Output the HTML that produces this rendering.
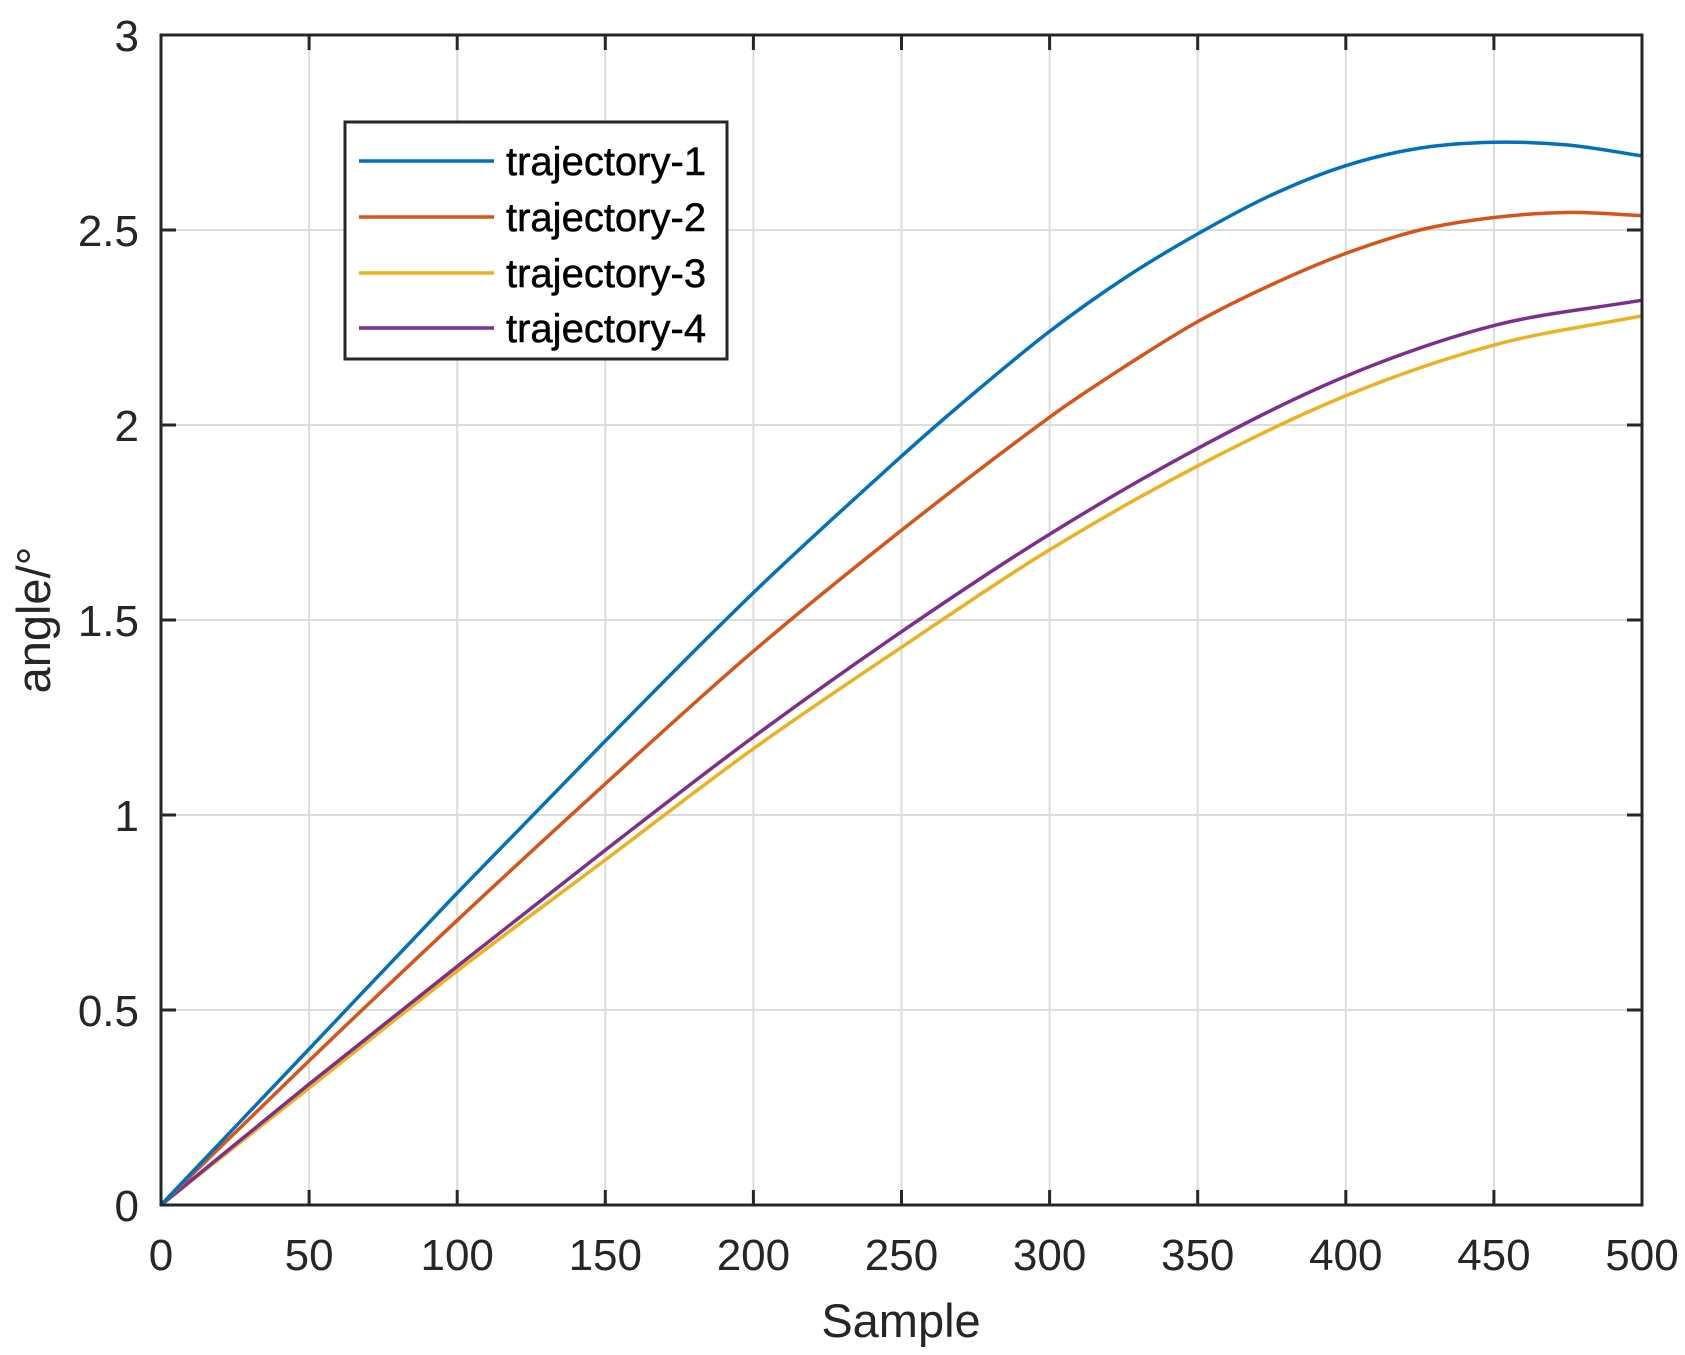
<!DOCTYPE html>
<html><head><style>body{margin:0;background:#fff}svg{display:block}text{font-family:"Liberation Sans",Arial,sans-serif;fill:#262626}</style></head>
<body>
<svg id="s" width="1685" height="1355" viewBox="0 0 1685 1355" xmlns="http://www.w3.org/2000/svg">
<rect width="1685" height="1355" fill="#fff"/>
<g id="grid" stroke="#dcdcdc" stroke-width="2"></g>
<g id="curves" fill="none" stroke-width="3.5"></g>
<rect x="161" y="35" width="1481" height="1170" fill="none" stroke="#262626" stroke-width="3"/>
<g id="ticks" stroke="#262626" stroke-width="3"></g>
<g id="labels" font-size="44"></g>
<text x="901" y="1337" font-size="47" text-anchor="middle">Sample</text>
<text transform="translate(50,620) rotate(-90)" font-size="47" text-anchor="middle">angle/°</text>
<rect x="345" y="122" width="382" height="237" fill="#fff" stroke="#262626" stroke-width="3"/>
<g font-size="40">
<line x1="359" y1="161" x2="494" y2="161" stroke="#0072bd" stroke-width="3.5"/><text x="506" y="175" style="fill:#000;stroke:#000;stroke-width:0.5">trajectory-1</text>
<line x1="359" y1="217" x2="494" y2="217" stroke="#d95319" stroke-width="3.5"/><text x="506" y="231" style="fill:#000;stroke:#000;stroke-width:0.5">trajectory-2</text>
<line x1="359" y1="273" x2="494" y2="273" stroke="#edb120" stroke-width="3.5"/><text x="506" y="287" style="fill:#000;stroke:#000;stroke-width:0.5">trajectory-3</text>
<line x1="359" y1="328" x2="494" y2="328" stroke="#7e2f8e" stroke-width="3.5"/><text x="506" y="342" style="fill:#000;stroke:#000;stroke-width:0.5">trajectory-4</text>
</g>
</svg>
<script>
const NS="http://www.w3.org/2000/svg";
const X=v=>161+v*1481/500, Y=v=>1205-v*390;
function el(p,t,a,txt){const e=document.createElementNS(NS,t);for(const k in a)e.setAttribute(k,a[k]);if(txt!==undefined)e.textContent=txt;document.getElementById(p).appendChild(e);}
for(let i=0;i<=10;i++){const x=X(i*50);
 if(i>0&&i<10)el("grid","line",{x1:x,y1:35,x2:x,y2:1205});
 if(i>0&&i<10){el("ticks","line",{x1:x,y1:1205,x2:x,y2:1190});el("ticks","line",{x1:x,y1:35,x2:x,y2:50});}
 el("labels","text",{x:x,y:1270,"text-anchor":"middle"},String(i*50));}
for(let j=0;j<=6;j++){const y=Y(j*0.5);
 if(j>0&&j<6){el("grid","line",{x1:161,y1:y,x2:1642,y2:y});el("ticks","line",{x1:161,y1:y,x2:176,y2:y});el("ticks","line",{x1:1642,y1:y,x2:1627,y2:y});}
 el("labels","text",{x:139,y:y+16,"text-anchor":"end"},String(j*0.5));}
const data=[
["#edb120",[[0,0],[50,0.3],[100,0.6],[150,0.885],[200,1.17],[250,1.43],[300,1.68],[350,1.895],[400,2.075],[450,2.205],[500,2.28]]],
["#7e2f8e",[[0,0],[50,0.31],[100,0.612],[150,0.91],[200,1.2],[250,1.47],[300,1.72],[350,1.94],[400,2.125],[450,2.255],[500,2.32]]],
["#d95319",[[0,0],[50,0.37],[100,0.73],[150,1.08],[200,1.42],[250,1.73],[300,2.02],[325,2.148],[350,2.265],[375,2.36],[400,2.44],[425,2.5],[450,2.532],[475,2.545],[500,2.537]]],
["#0072bd",[[0,0],[50,0.4],[100,0.8],[150,1.19],[200,1.57],[250,1.92],[275,2.085],[300,2.24],[325,2.375],[350,2.49],[375,2.59],[400,2.665],[425,2.71],[450,2.725],[475,2.718],[500,2.69]]]];
for(const [c,pts] of data){const P=pts.map(p=>[X(p[0]),Y(p[1])]);let d="M"+P[0];
 for(let i=0;i<P.length-1;i++){const p0=P[Math.max(0,i-1)],p1=P[i],p2=P[i+1],p3=P[Math.min(P.length-1,i+2)];
  const k1=(p2[0]-p1[0])/(p2[0]-p0[0]||1), k2=(p2[0]-p1[0])/(p3[0]-p1[0]||1);
  d+=" C"+(p1[0]+(p2[0]-p0[0])*k1/3)+","+(p1[1]+(p2[1]-p0[1])*k1/3)+" "+(p2[0]-(p3[0]-p1[0])*k2/3)+","+(p2[1]-(p3[1]-p1[1])*k2/3)+" "+p2[0]+","+p2[1];}
 el("curves","path",{d:d,stroke:c});}
</script>
</body></html>
